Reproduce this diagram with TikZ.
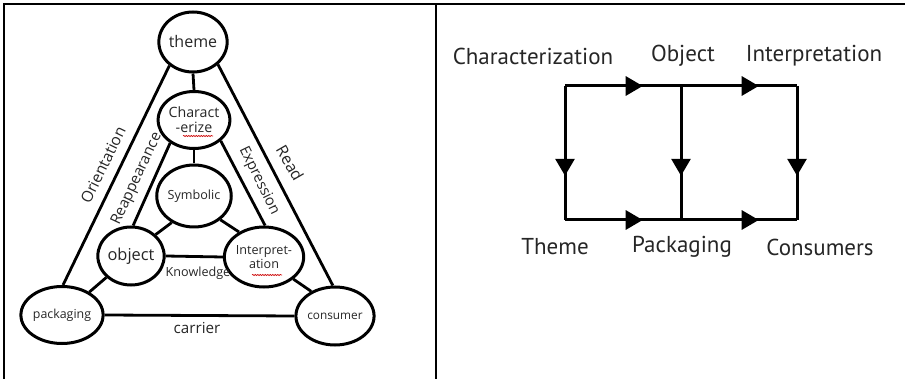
\documentclass[tikz,border=0pt]{standalone}
\usepackage{fontspec}
\setmainfont{PT Sans}
\newfontfamily\leftfont{Open Sans}
\usetikzlibrary{shapes.geometric,arrows.meta,decorations.markings,decorations.pathmorphing}

\newcommand{\fsz}[1]{\fontsize{#1pt}{#1pt}\selectfont}
\newcommand{\lf}[1]{\leftfont\fontsize{#1pt}{#1pt}\selectfont}

\definecolor{inktext}{HTML}{262626}

\tikzset{
  circ/.style={draw, ellipse, line width=3pt, inner sep=0pt, align=center, text=inktext},
  link/.style={line width=2.8pt},
  lbl/.style={inner sep=0pt, align=center, text=inktext},
  wavy/.style={draw=red!80!black, line width=0.6pt,
    decorate, decoration={snake, amplitude=0.6pt, segment length=2.5pt}},
  flow/.style={line width=3pt, postaction={decorate},
    decoration={markings, mark=at position #1 with
      {\arrow{Triangle[length=17pt,width=19pt]}}}},
  flow/.default=0.67,
  frame/.style={line width=2.2pt}
}

\begin{document}
\begin{tikzpicture}[x=1pt, y=-1pt]
\useasboundingbox (0,0) rectangle (905,379);

% table frame
\draw[frame] (4,379) -- (4,4) -- (905,4);
\draw[frame] (436,4) -- (436,379);

% ---- left: triangle of concepts ----
\node[circ, minimum width=61pt, minimum height=60pt, font=\lf{16}] (theme) at (193,42) {theme};
\node[circ, minimum width=61pt, minimum height=57pt, font=\lf{14.2}] (char) at (194,120) {Charact\\[1pt]-erize};
\node[circ, minimum width=64pt, minimum height=62pt, font=\lf{12.6}] (sym) at (194,196) {Symbolic};
\node[circ, minimum width=66pt, minimum height=58pt, font=\lf{16.4}] (obj) at (131,256) {object};
\node[circ, minimum width=64pt, minimum height=60pt, font=\lf{12.6}] (interp) at (264,257) {Interpret-\\[1pt]ation};
\node[circ, minimum width=67pt, minimum height=57pt, font=\lf{12.4}] (pack) at (62,315) {packaging};
\node[circ, minimum width=66pt, minimum height=58pt, font=\lf{11.8}] (cons) at (335,316) {consumer};

\draw[link] (theme.225) -- (pack.88);
\draw[link] (theme.318) -- (cons.94);
\draw[link] (theme.south) -- (char.north);
\draw[link] (char.south) -- (sym.north);
\draw[link] (char.224) -- (obj.86);
\draw[link] (char.322) -- (interp.88);
\draw[link] (sym.230) -- (obj.41);
\draw[link] (sym.318) -- (interp.135);
\draw[link] (obj.east) -- (interp.west);
\draw[link] (obj.221) -- (pack.40);
\draw[link] (interp.323) -- (cons.134);
\draw[link] (pack.east) -- (cons.west);

\node[lbl, rotate=64, font=\lf{15.5}] (orient) at (103,165) {Orientation};
\node[lbl, rotate=65, font=\lf{15}] (reapp) at (137,179) {Reappearance};
\node[lbl, rotate=-64, font=\lf{14.7}] (expr) at (259,181) {Expression};
\node[lbl, rotate=-60, font=\lf{16}] (read) at (290,163) {Read};
\node[lbl, font=\lf{12.6}] (know) at (198,273) {Knowledge};
\node[lbl, font=\lf{15.2}] (carr) at (197,328) {carrier};

% spell-check marks under the split words
\draw[wavy] (183,136) -- (213,136);
\draw[wavy] (252,275) -- (282,275);

% ---- right: flow between the six concepts ----
\coordinate (c1) at (565,86);
\coordinate (o1) at (681,86);
\coordinate (i1) at (797,86);
\coordinate (t1) at (565,220);
\coordinate (p1) at (681,220);
\coordinate (s1) at (797,220);

\draw[flow] (c1) -- (o1);
\draw[flow] (o1) -- (i1);
\draw[flow] (c1) -- (t1);
\draw[flow] (o1) -- (p1);
\draw[flow] (i1) -- (s1);
\draw[flow] (t1) -- (p1);
\draw[flow] (p1) -- (s1);

\node[lbl, font=\fsz{23}] (lchar) at (533,56) {Characterization};
\node[lbl, font=\fsz{23}] (lobj) at (683,56) {Object};
\node[lbl, font=\fsz{23}] (lint) at (814,56) {Interpretation};
\node[lbl, font=\fsz{23}] (lthe) at (555,247) {Theme};
\node[lbl, font=\fsz{23}] (lpac) at (682,247) {Packaging};
\node[lbl, font=\fsz{23}] (lcon) at (820,247) {Consumers};
\end{tikzpicture}
\end{document}
